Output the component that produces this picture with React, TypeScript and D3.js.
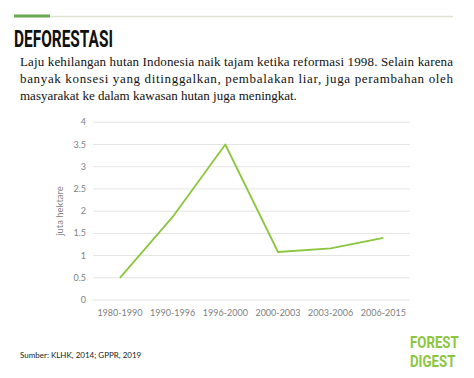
import React from "react";
import * as d3 from "d3";

const categories = ["1980-1990", "1990-1996", "1996-2000", "2000-2003", "2003-2006", "2006-2015"];
const values = [0.5, 1.87, 3.5, 1.08, 1.16, 1.4];
const yTicks = [0, 0.5, 1, 1.5, 2, 2.5, 3, 3.5, 4];
const paragraph = [
  "Laju kehilangan hutan Indonesia naik tajam ketika reformasi 1998. Selain karena",
  "banyak konsesi yang ditinggalkan, pembalakan liar, juga perambahan oleh",
  "masyarakat ke dalam kawasan hutan juga meningkat.",
];

export default function App() {
  const W = 474, H = 378;
  const x = d3.scaleBand<string>().domain(categories).range([93.6, 409.7]);
  const y = d3.scaleLinear().domain([0, 4]).range([300, 122.3]);
  const line = d3
    .line<number>()
    .x((_, i) => (x(categories[i]) as number) + x.bandwidth() / 2)
    .y((d) => y(d));
  const sans = "Lato, 'Open Sans', sans-serif";
  return (
    <svg width={W} height={H} style={{ position: "absolute", left: 0, top: 0, background: "#fff" }}>
      <rect width={W} height={H} fill="#fff" />
      {/* header rule */}
      <line x1={50} x2={453} y1={16.5} y2={16.5} stroke="#dde3d3" strokeWidth={1.5} />
      <line x1={14} x2={50} y1={16} y2={16} stroke="#6aa84f" strokeWidth={3} />
      <text
        x={14}
        y={47}
        fontFamily="Roboto, sans-serif"
        fontWeight={700}
        fontSize={24}
        fill="#111"
        textLength={99}
        lengthAdjust="spacingAndGlyphs"
      >
        DEFORESTASI
      </text>
      {paragraph.map((t, i) => (
        <text
          key={i}
          x={20}
          y={66 + i * 17}
          fontFamily="'Liberation Serif', 'DejaVu Serif', serif"
          fontSize={13}
          fill="#111"
          {...(i < 2 ? { textLength: 433, lengthAdjust: "spacing" } : {})}
        >
          {t}
        </text>
      ))}
      {/* grid */}
      {yTicks.map((t) => (
        <g key={t}>
          <line x1={93} x2={409.7} y1={y(t)} y2={y(t)} stroke="#e4e4e4" strokeWidth={1} />
          <text x={86} y={y(t) + 3} textAnchor="end" fontFamily={sans} fontSize={9} fill="#7f7f7f">
            {t}
          </text>
        </g>
      ))}
      {categories.map((c) => (
        <text
          key={c}
          x={(x(c) as number) + x.bandwidth() / 2}
          y={316}
          textAnchor="middle"
          fontFamily={sans}
          fontSize={9}
          fill="#7f7f7f"
        >
          {c}
        </text>
      ))}
      <text
        transform={`translate(63,211) rotate(-90)`}
        textAnchor="middle"
        fontFamily={sans}
        fontSize={9.5}
        fill="#7f7f7f"
      >
        juta hektare
      </text>
      <path d={line(values) || ""} fill="none" stroke="#8cc63f" strokeWidth={1.8} strokeLinejoin="round" />
      <text x={20} y={358} fontFamily={sans} fontSize={8} fill="#222">
        Sumber: KLHK, 2014; GPPR, 2019
      </text>
      {/* logo */}
      <g transform="translate(410,0) scale(0.78,1)">
        <text x={0} y={348} fontFamily="Roboto, sans-serif" fontWeight={700} fontSize={17} fill="#8cc63f">
          FOREST
        </text>
        <text x={0} y={367} fontFamily="Roboto, sans-serif" fontWeight={700} fontSize={17} fill="#8cc63f">
          DIGEST
        </text>
      </g>
    </svg>
  );
}
